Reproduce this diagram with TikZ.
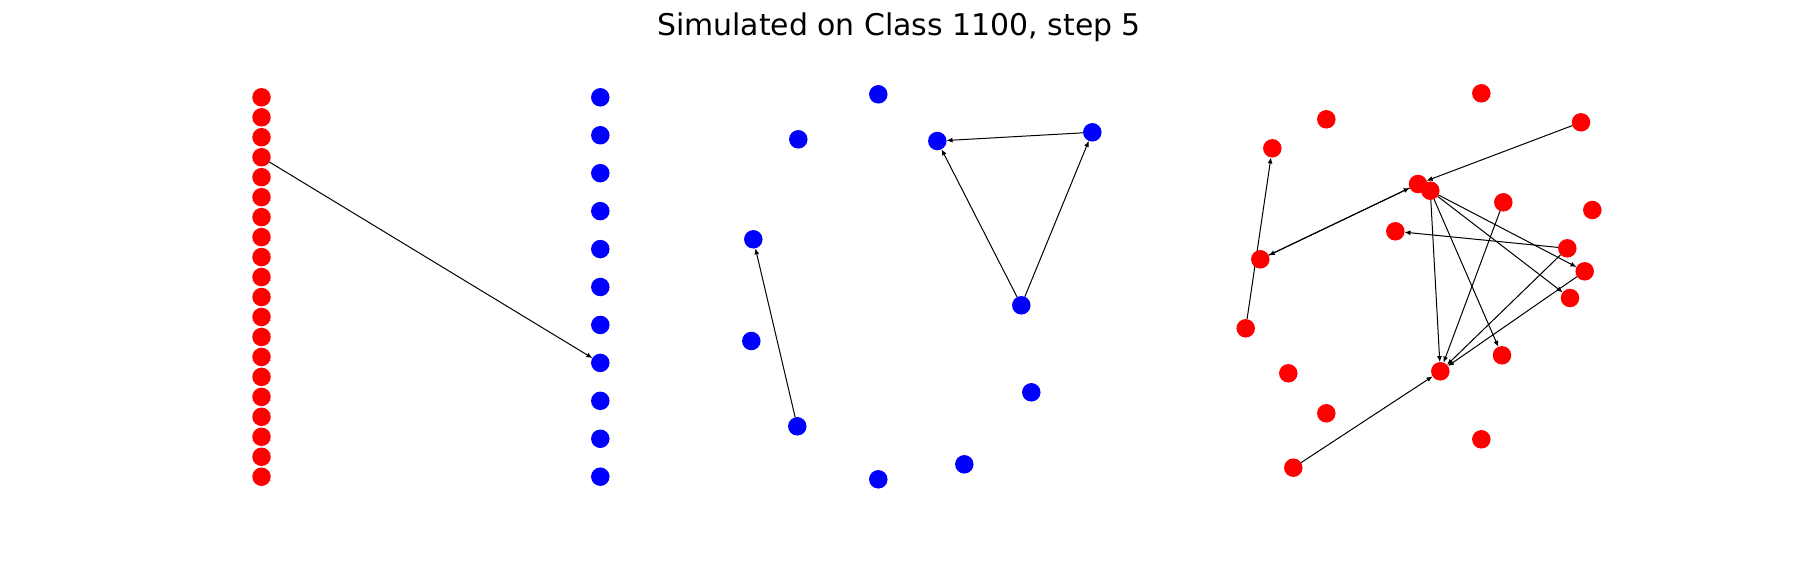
\documentclass[tikz,border=0pt]{standalone}
\usepackage{fontspec}
\setmainfont{DejaVu Sans}
\usepackage{tikz}
\usetikzlibrary{arrows.meta}
\usetikzlibrary{backgrounds}

\begin{document}
\begin{tikzpicture}[x=1pt,y=-1pt,>={Latex[length=6pt,width=5pt]},
  red node/.style={circle,fill=red,minimum size=18.5pt,inner sep=0pt,outer sep=0pt},
  blue node/.style={circle,fill=blue,minimum size=18.5pt,inner sep=0pt,outer sep=0pt}]

  \useasboundingbox (0,0) rectangle (1800,576);
  \node[anchor=base,font=\fontsize{29.9}{35}\selectfont] (title) at (899,35) {Simulated on Class 1100, step 5};

  % two columns
  \foreach \i in {1,...,20}
    \node[red node] (l\i) at (261.5,{97.3+19.97*(\i-1)}) {};
  \foreach \i in {1,...,11}
    \node[blue node] (c\i) at (600.3,{97.3+37.94*(\i-1)}) {};

  % blue ring
  \node[blue node] (b1) at (878.3,94.3) {};
  \node[blue node] (b2) at (798.3,139.3) {};
  \node[blue node] (b3) at (937.3,141) {};
  \node[blue node] (b4) at (1092.3,132.3) {};
  \node[blue node] (b5) at (753.3,239.3) {};
  \node[blue node] (b6) at (751.3,341) {};
  \node[blue node] (b7) at (1021.3,305.3) {};
  \node[blue node] (b8) at (1031.3,392.3) {};
  \node[blue node] (b9) at (797.3,426.3) {};
  \node[blue node] (b10) at (964.3,464.3) {};
  \node[blue node] (b11) at (878.3,479.3) {};

  % red cloud
  \node[red node] (r1) at (1481.3,93.3) {};
  \node[red node] (r2) at (1326.3,119.3) {};
  \node[red node] (r3) at (1581,122.3) {};
  \node[red node] (r4) at (1272.3,148.3) {};
  \node[red node] (r5) at (1418,184) {};
  \node[red node] (r6) at (1430.3,190.7) {};
  \node[red node] (r7) at (1503.3,202.3) {};
  \node[red node] (r8) at (1592.3,210) {};
  \node[red node] (r9) at (1395.3,231.3) {};
  \node[red node] (r10) at (1567.3,248.3) {};
  \node[red node] (r11) at (1260.3,259.3) {};
  \node[red node] (r12) at (1584.7,271.3) {};
  \node[red node] (r13) at (1570,298) {};
  \node[red node] (r14) at (1245.7,328.3) {};
  \node[red node] (r15) at (1502,355.3) {};
  \node[red node] (r16) at (1440.3,371.3) {};
  \node[red node] (r17) at (1288.3,373.3) {};
  \node[red node] (r18) at (1326.3,413.3) {};
  \node[red node] (r19) at (1481.3,439.3) {};
  \node[red node] (r20) at (1293.3,467.7) {};

  \begin{pgfonlayer}{background}
  \path[->,line width=1pt]
    (l4) edge (c8)
    (b4) edge (b3)
    (b7) edge (b3)
    (b7) edge (b4)
    (b9) edge (b5)
    (r14) edge (r4)
    (r11) edge (r5)
    (r5) edge (r11)
    (r3) edge (r5)
    (r6) edge (r12)
    (r6) edge (r13)
    (r6) edge (r15)
    (r6) edge (r16)
    (r7) edge (r16)
    (r10) edge (r9)
    (r10) edge (r16)
    (r12) edge (r16)
    (r20) edge (r16);
  \end{pgfonlayer}
\end{tikzpicture}
\end{document}
